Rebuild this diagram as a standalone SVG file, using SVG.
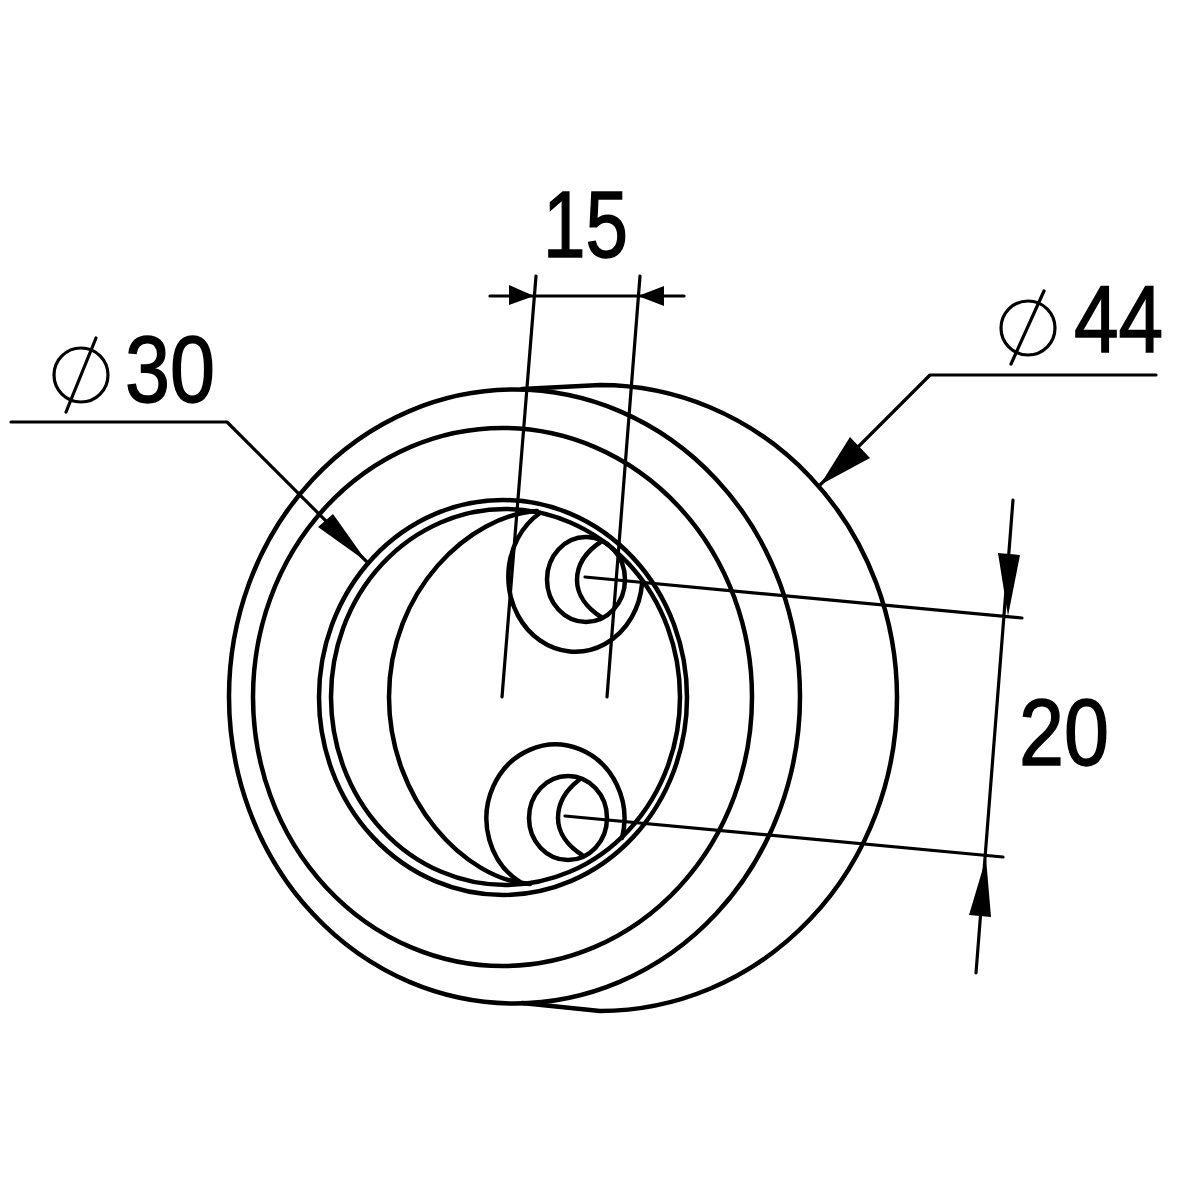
<svg xmlns="http://www.w3.org/2000/svg" width="1200" height="1200" viewBox="0 0 1200 1200">
<style>
.o{fill:none;stroke:#000;stroke-width:4.500;stroke-linecap:round}
.d{fill:none;stroke:#000;stroke-width:3.200;stroke-linecap:round;stroke-linejoin:round}
.a{fill:#000;stroke:none}
.t{font-family:"Liberation Sans",Arial,sans-serif;font-size:94px;fill:#000;stroke:#000;stroke-width:1.500}
</style>
<rect width="1200" height="1200" fill="#fff"/>
<g id="part">
<ellipse class="o" cx="514.5" cy="696.5" rx="285.5" ry="307"/>
<ellipse class="o" cx="502.5" cy="697" rx="249.5" ry="269"/>
<ellipse class="o" cx="503" cy="697.500" rx="184" ry="197.500"/>
<ellipse class="o" cx="505.500" cy="697" rx="174.500" ry="188"/>
<path class="o" d="M522 389 L600 385 A297 313 0 0 1 600 1011 L522 1003"/>
<path class="o" d="M537 511 C470 515 389 590 389 697 C389 800 465 880 530 884"/>
<path class="o" d="M540 513 A67 75 0 1 0 642 584"/>
<ellipse class="o" cx="586" cy="579.500" rx="39" ry="42.500"/>
<path class="o" d="M602 541 C585 552 577 565 577 580 C577 595 587 608 601 617"/>
<path class="o" d="M622 838 A69 74 0 1 0 520 882"/>
<ellipse class="o" cx="568" cy="818" rx="39" ry="42"/>
<path class="o" d="M579 780 C566 790 558 803 558 818 C558 833 568 846 582 855"/>
</g>
<g id="dimensions">
<path class="d" d="M536 276L502 697M640 276L607 697M490 296H684"/>
<path class="a" d="M534 296L509 285V305ZM638 296L664 286V306Z"/>
<path class="d" d="M585 577L1022 618M565 816L1003 857M1013 500L976 973"/>
<path class="a" d="M1008 616L998 553L1020 555ZM986 858L969 915L991 917Z"/>
<path class="d" d="M1156 375H930L820 485"/>
<path class="a" d="M820 485L850 437L870 458Z"/>
<circle class="d" cx="1028" cy="328" r="27"/>
<path class="d" d="M1044 291L1011 364"/>
<path class="d" d="M11 422H227L367 562"/>
<path class="a" d="M367 562L333 514L318 527Z"/>
<circle class="d" cx="81" cy="375" r="27"/>
<path class="d" d="M96 338L66 412"/>
</g>
<g id="labels">
<text class="t" x="543" y="257" textLength="85" lengthAdjust="spacingAndGlyphs">15</text>
<text class="t" x="1074" y="352" textLength="89" lengthAdjust="spacingAndGlyphs">44</text>
<text class="t" x="125" y="402" textLength="90" lengthAdjust="spacingAndGlyphs">30</text>
<text class="t" x="1019" y="765" textLength="90" lengthAdjust="spacingAndGlyphs">20</text>
</g>
</svg>
